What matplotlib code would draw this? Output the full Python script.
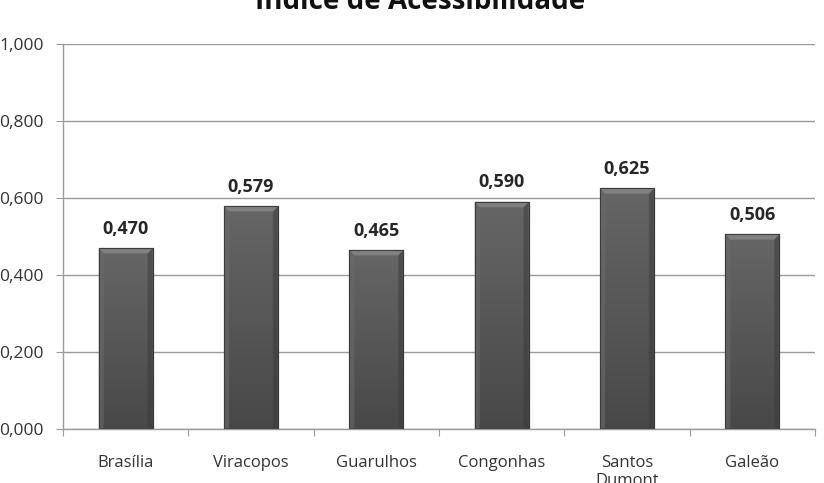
import matplotlib
matplotlib.use("Agg")
import matplotlib.pyplot as plt
import numpy as np
from matplotlib.ticker import FixedLocator, NullFormatter
from matplotlib.colors import LinearSegmentedColormap

categories = ["Brasília", "Viracopos", "Guarulhos", "Congonhas", "Santos\nDumont", "Galeão"]
values = [0.470, 0.579, 0.465, 0.590, 0.625, 0.506]
yticks = [0.0, 0.2, 0.4, 0.6, 0.8, 1.0]
title = "Índice de Acessibilidade"

plt.rcParams['font.family'] = ['Open Sans', 'DejaVu Sans']

fig = plt.figure(figsize=(8.24, 4.83), dpi=100)
ax = fig.add_axes([63/824, 1-429/483, 752/824, 385/483])

x = np.arange(len(categories))
bw = 0.43
bars = ax.bar(x, values, width=bw, color="#575757", edgecolor="#3c3c3c", linewidth=0.8, zorder=3)

# vertical gradient fill clipped to bars
cmap = LinearSegmentedColormap.from_list("g", ["#484848", "#666666"])
grad = np.linspace(0, 1, 256).reshape(-1, 1)
for b in bars:
    x0, y0 = b.get_x(), b.get_y()
    w, h = b.get_width(), b.get_height()
    im = ax.imshow(grad, extent=[x0, x0 + w, y0, y0 + h], aspect="auto", cmap=cmap,
                   origin="lower", zorder=3.5)
    im.set_clip_path(b)
    dy = 0.014
    dx = 0.04
    ax.fill([x0, x0 + w, x0 + w - dx, x0 + dx], [y0 + h, y0 + h, y0 + h - dy, y0 + h - dy],
            color="#808080", zorder=3.6, linewidth=0)
    ax.fill([x0, x0 + dx, x0 + dx, x0], [y0 + h, y0 + h - dy, y0 + 0.004, y0],
            color="#6a6a6a", zorder=3.55, linewidth=0, alpha=0.6)
    ax.fill([x0 + w, x0 + w - dx, x0 + w - dx, x0 + w], [y0 + h, y0 + h - dy, y0 + 0.004, y0],
            color="#3a3a3a", zorder=3.55, linewidth=0, alpha=0.5)
    ax.bar(x0 + w / 2, h, width=w, bottom=y0, fill=False, edgecolor="#3c3c3c", linewidth=0.8, zorder=3.7)

for xi, v in zip(x, values):
    ax.annotate(f"{v:.3f}".replace(".", ","), (xi, v), xytext=(0, 7.5), textcoords="offset points",
                ha="center", va="bottom", fontsize=13, fontweight="bold", color="#262626")

ax.set_xlim(-0.5, len(categories) - 0.5)
ax.set_ylim(0, 1.0)
ax.set_yticks(yticks)
ax.set_yticklabels([f"{t:.3f}".replace(".", ",") for t in yticks], fontsize=12.5, color="#333333")
ax.yaxis.grid(True, color="#9a9a9a", linewidth=1.0, zorder=0)
ax.set_axisbelow(True)

ax.xaxis.set_major_locator(FixedLocator(np.arange(-0.5, len(categories), 1.0)))
ax.xaxis.set_major_formatter(NullFormatter())
ax.xaxis.set_minor_locator(FixedLocator(x))
ax.set_xticklabels(categories, minor=True, fontsize=12, color="#333333", va="top",
                   linespacing=1.15)
ax.tick_params(axis="x", which="minor", length=0, pad=19)
ax.tick_params(axis="x", which="major", length=5, color="#9a9a9a", direction="out")
ax.tick_params(axis="y", length=5, color="#9a9a9a", direction="out", pad=9)

for s in ["top", "right"]:
    ax.spines[s].set_visible(False)
for s in ["left", "bottom"]:
    ax.spines[s].set_color("#9a9a9a")
    ax.spines[s].set_linewidth(1.0)

fig.text(420/824, 1 - 9/483, title, ha="center", va="baseline", fontsize=20, fontweight="bold", color="#111111")

fig.savefig("out.png", dpi=100)
